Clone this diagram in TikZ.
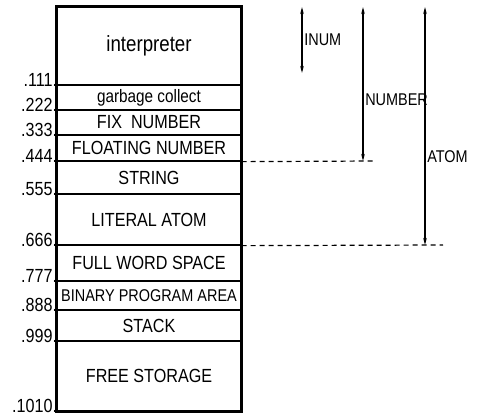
\documentclass[tikz,border=0pt]{standalone}
\usepackage{fontspec}
\newfontfamily\memfont[FakeStretch=0.85]{Liberation Sans}
\usepackage{tikz}
\usetikzlibrary{arrows.meta,positioning,calc}
\tikzset{
  region/.style={rectangle,draw=black,line width=1.3pt,minimum width=184pt,
                 inner sep=0pt,align=center,font=\memfont\fontsize{19}{21}\selectfont},
  addr/.style={anchor=base east,inner sep=0pt,font=\memfont\fontsize{19}{21}\selectfont},
  span/.style={{Stealth[length=7pt,width=3.5pt]}-{Stealth[length=7pt,width=3.5pt]},line width=1.6pt},
  spanlabel/.style={right,inner sep=1.5pt,font=\memfont\fontsize{17}{19}\selectfont},
  guide/.style={dashed,dash pattern=on 5pt off 4pt,line width=1.2pt},
}
\begin{document}
\begin{tikzpicture}[x=1pt,y=-1pt]
  \useasboundingbox[fill=white] (0,0) rectangle (483,417);
  % memory regions, top to bottom
  \foreach \n/\ya/\yb/\txt/\adr in {interp/7/85/{\fontsize{22}{24}\selectfont interpreter}/.111.,
                                    gc/85/110/{\fontsize{18}{20}\selectfont garbage collect}/.222.,
                                    fix/110/135/FIX\ \ NUMBER/.333.,
                                    float/135/161/FLOATING NUMBER/.444.,
                                    string/161/194/STRING/.555.,
                                    literal/194/245/LITERAL ATOM/.666.,
                                    full/245/281/FULL WORD SPACE/.777.,
                                    binary/281/310/{\fontsize{17}{19}\selectfont BINARY PROGRAM AREA}/.888.,
                                    stack/310/341/STACK/.999.,
                                    free/341/411/FREE STORAGE/.1010.}{
    \node[region,minimum height={\yb-\ya}] (\n) at (149,{(\ya+\yb)/2}) {\txt};
    \node[addr] (a-\n) at ($(\n.south west)+(1,1)$) {\adr};
  }
  \draw[line width=2pt] (interp.north west) rectangle (free.south east);
  % ranges
  \coordinate (inumtop) at (302,7);
  \coordinate (inumbot) at (302,73);
  \coordinate (numtop) at (363,7);
  \coordinate (numbot) at (363,161);
  \coordinate (atomtop) at (425,7);
  \coordinate (atombot) at (425,245);
  \coordinate (numend) at (374,161);
  \coordinate (atomend) at (443,245);
  \draw[span] (inumtop) -- (inumbot) node[spanlabel,midway] (inum) {INUM};
  \draw[span] (numtop) -- (numbot) node[spanlabel,pos=0.6] (number) {NUMBER};
  \draw[span] (atomtop) -- (atombot) node[spanlabel,pos=0.63] (atom) {ATOM};
  \draw[guide] (float.south east) -- (numend);
  \draw[guide] (literal.south east) -- (atomend);
\end{tikzpicture}
\end{document}
